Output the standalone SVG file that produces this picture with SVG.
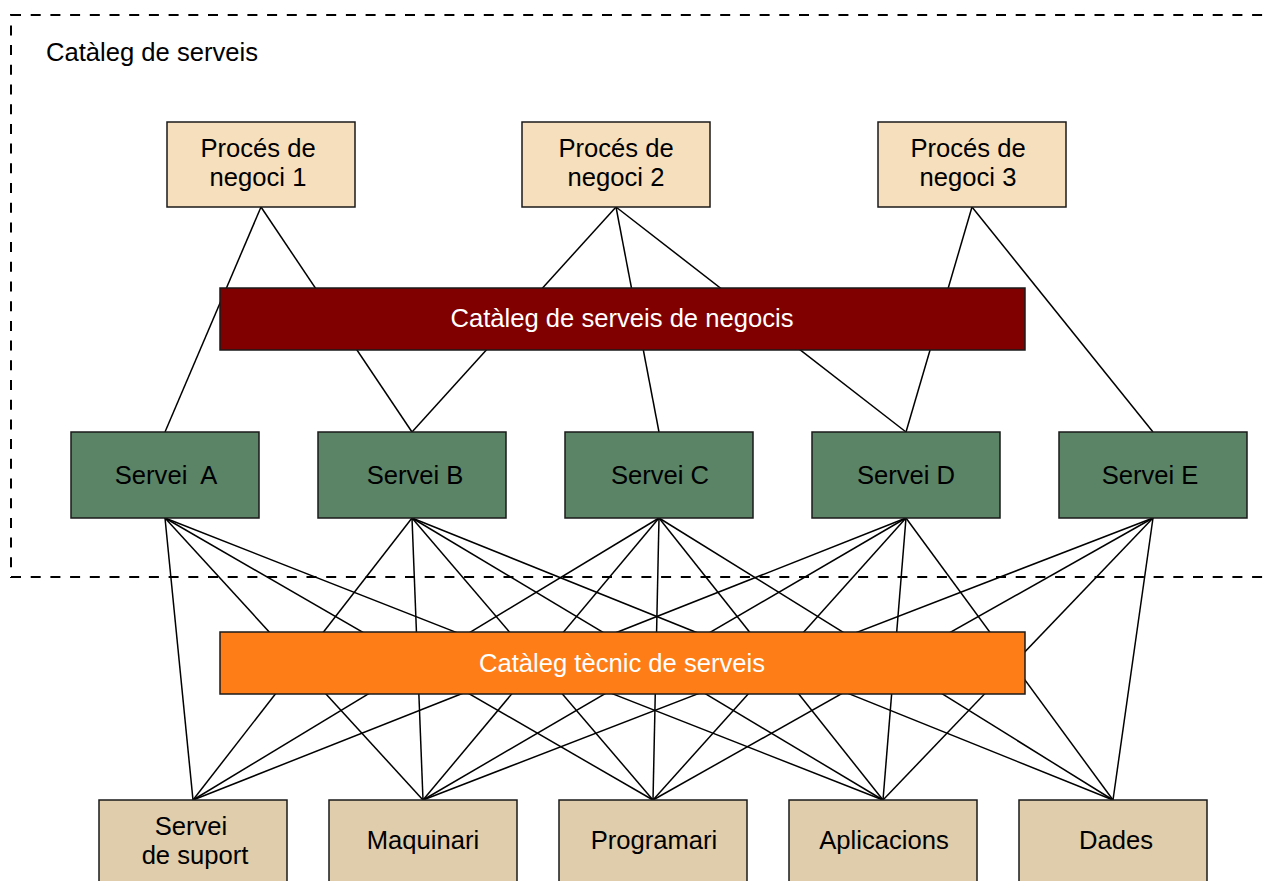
<svg xmlns="http://www.w3.org/2000/svg" width="1271" height="881" viewBox="0 0 1271 881">
<style>
text{font-family:"Liberation Sans",Arial,sans-serif;font-size:25.6px;text-anchor:middle;fill:#000}
.w{fill:#fff}
.box{stroke:#1a1a1a;stroke-width:1.5}
.proc{fill:#F5DFBD}
.srv{fill:#5B8466}
.bot{fill:#DFCDAB}
.bar1{fill:#800000}
.bar2{fill:#FF7D17}
#connectors line{stroke:#000;stroke-width:1.5}
</style>
<rect x="0" y="0" width="1271" height="881" fill="#fff"/>
<g id="catalog-boundary">
<rect x="11" y="15" width="1300" height="562" fill="none" stroke="#000" stroke-width="2" stroke-dasharray="10 9.7"/>
<text x="46" y="61" style="text-anchor:start">Catàleg de serveis</text>
</g>
<g id="connectors">
<line x1="261" y1="207" x2="165" y2="432"/>
<line x1="261" y1="207" x2="412" y2="432"/>
<line x1="616" y1="207" x2="412" y2="432"/>
<line x1="616" y1="207" x2="659" y2="432"/>
<line x1="616" y1="207" x2="906" y2="432"/>
<line x1="972" y1="207" x2="906" y2="432"/>
<line x1="972" y1="207" x2="1153" y2="432"/>
<line x1="165" y1="518" x2="193" y2="800"/>
<line x1="165" y1="518" x2="423" y2="800"/>
<line x1="165" y1="518" x2="653" y2="800"/>
<line x1="165" y1="518" x2="883" y2="800"/>
<line x1="412" y1="518" x2="193" y2="800"/>
<line x1="412" y1="518" x2="423" y2="800"/>
<line x1="412" y1="518" x2="653" y2="800"/>
<line x1="412" y1="518" x2="883" y2="800"/>
<line x1="412" y1="518" x2="1113" y2="800"/>
<line x1="659" y1="518" x2="193" y2="800"/>
<line x1="659" y1="518" x2="423" y2="800"/>
<line x1="659" y1="518" x2="653" y2="800"/>
<line x1="659" y1="518" x2="883" y2="800"/>
<line x1="659" y1="518" x2="1113" y2="800"/>
<line x1="906" y1="518" x2="193" y2="800"/>
<line x1="906" y1="518" x2="423" y2="800"/>
<line x1="906" y1="518" x2="653" y2="800"/>
<line x1="906" y1="518" x2="883" y2="800"/>
<line x1="906" y1="518" x2="1113" y2="800"/>
<line x1="1153" y1="518" x2="423" y2="800"/>
<line x1="1153" y1="518" x2="653" y2="800"/>
<line x1="1153" y1="518" x2="883" y2="800"/>
<line x1="1153" y1="518" x2="1113" y2="800"/>
</g>
<g id="proces1"><rect class="box proc" x="167" y="122" width="188" height="85"/><text x="258" y="157">Procés de</text><text x="258" y="186">negoci 1</text></g>
<g id="proces2"><rect class="box proc" x="522" y="122" width="188" height="85"/><text x="616" y="157">Procés de</text><text x="616" y="186">negoci 2</text></g>
<g id="proces3"><rect class="box proc" x="878" y="122" width="188" height="85"/><text x="968" y="157">Procés de</text><text x="968" y="186">negoci 3</text></g>
<g id="bar-negocis"><rect class="box bar1" x="220" y="288" width="805" height="62"/><text class="w" x="622" y="327">Catàleg de serveis de negocis</text></g>
<g id="servei-a"><rect class="box srv" x="71" y="432" width="188" height="86"/><text x="166" y="484" xml:space="preserve">Servei  A</text></g>
<g id="servei-b"><rect class="box srv" x="318" y="432" width="188" height="86"/><text x="415" y="484">Servei B</text></g>
<g id="servei-c"><rect class="box srv" x="565" y="432" width="188" height="86"/><text x="660" y="484">Servei C</text></g>
<g id="servei-d"><rect class="box srv" x="812" y="432" width="188" height="86"/><text x="906" y="484">Servei D</text></g>
<g id="servei-e"><rect class="box srv" x="1059" y="432" width="188" height="86"/><text x="1150" y="484">Servei E</text></g>
<g id="bar-tecnic"><rect class="box bar2" x="220" y="632" width="805" height="62"/><text class="w" x="622" y="672">Catàleg tècnic de serveis</text></g>
<g id="suport"><rect class="box bot" x="99" y="800" width="188" height="86"/><text x="191" y="835">Servei</text><text x="195" y="864">de suport</text></g>
<g id="maquinari"><rect class="box bot" x="329" y="800" width="188" height="86"/><text x="423" y="849">Maquinari</text></g>
<g id="programari"><rect class="box bot" x="559" y="800" width="188" height="86"/><text x="654" y="849">Programari</text></g>
<g id="aplicacions"><rect class="box bot" x="789" y="800" width="188" height="86"/><text x="884" y="849">Aplicacions</text></g>
<g id="dades"><rect class="box bot" x="1019" y="800" width="188" height="86"/><text x="1116" y="849">Dades</text></g>
</svg>
